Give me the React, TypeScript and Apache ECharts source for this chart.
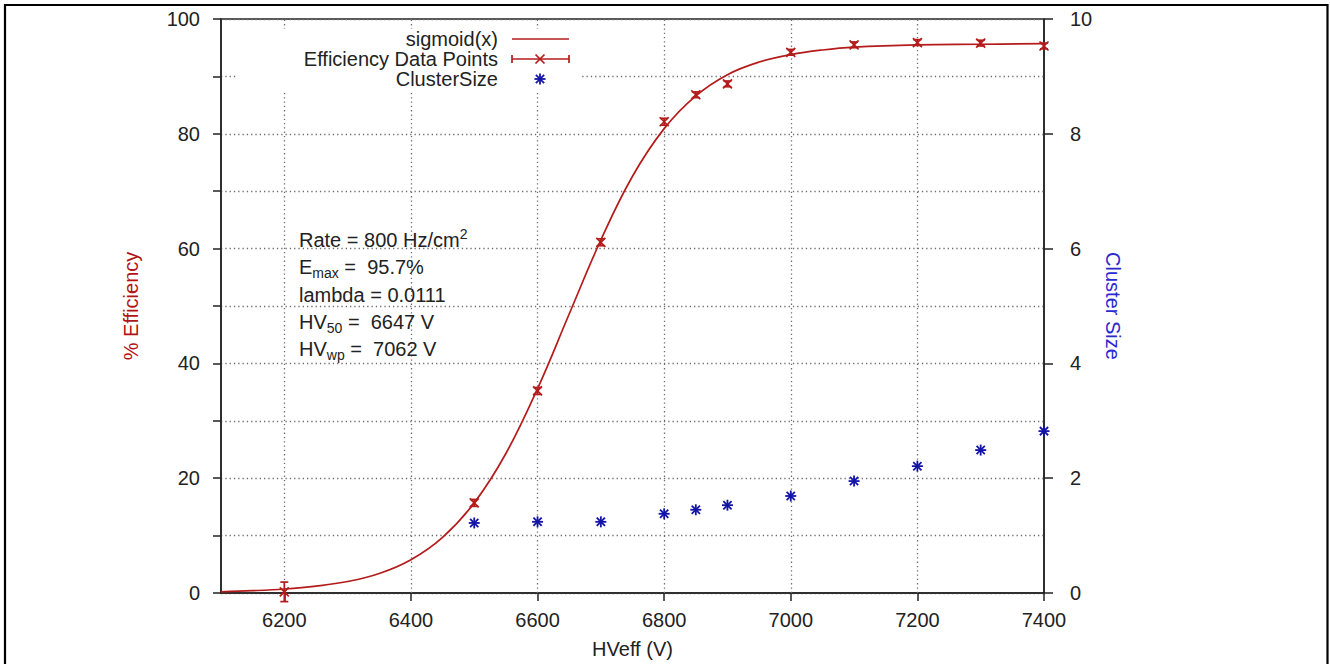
import React, { useEffect, useRef } from "react";
import * as echarts from "echarts";

// ---- data ----
const curveX = [6100, 6150, 6200, 6250, 6300, 6350, 6400, 6450, 6500, 6550, 6600, 6650, 6700, 6750, 6800, 6850, 6900, 6950, 7000, 7050, 7100, 7200, 7300, 7400];
const curveY = [0.2, 0.4, 0.7, 1.2, 2.0, 3.4, 5.8, 9.7, 15.7, 24.3, 35.6, 48.6, 61.5, 72.6, 80.9, 86.6, 90.3, 92.5, 93.8, 94.6, 95.1, 95.5, 95.6, 95.7];

const effX = [6200, 6500, 6600, 6700, 6800, 6850, 6900, 7000, 7100, 7200, 7300, 7400];
const effY = [0.2, 15.7, 35.2, 61.1, 82.1, 86.8, 88.7, 94.2, 95.5, 95.9, 95.8, 95.3];
const effErr = [1.7, 0.6, 0.6, 0.6, 0.6, 0.5, 0.5, 0.5, 0.5, 0.5, 0.5, 0.5];

const clusterX = [6500, 6600, 6700, 6800, 6850, 6900, 7000, 7100, 7200, 7300, 7400];
const clusterY = [1.22, 1.24, 1.24, 1.38, 1.45, 1.53, 1.69, 1.95, 2.21, 2.49, 2.82];

const xTickValues = [6200, 6400, 6600, 6800, 7000, 7200, 7400];
const xGridValues = [6200, 6400, 6600, 6800, 7000, 7200];

const legendLabels = ["sigmoid(x)", "Efficiency Data Points", "ClusterSize"];
const annotationLines = [
  "Rate = 800 Hz/cm{sup|2}",
  "E{sub|max} =  95.7%",
  "lambda = 0.0111",
  "HV{sub|50} =  6647 V",
  "HV{sub|wp} =  7062 V",
];

// ---- styles ----
const FONT = '"Liberation Sans", Arial, Helvetica, sans-serif';
const RED = "#b41c1c";
const BLUE = "#1414a8";
const TEXT = "#222222";
const GRIDC = "#6e6e6e";
const FS = 20;

function drawX(cx: number, cy: number, s: number, color: string) {
  const style = { stroke: color, lineWidth: 1.7 };
  return [
    { type: "line", shape: { x1: cx - s, y1: cy - s, x2: cx + s, y2: cy + s }, style },
    { type: "line", shape: { x1: cx - s, y1: cy + s, x2: cx + s, y2: cy - s }, style },
  ];
}

function drawStar(cx: number, cy: number, s: number, color: string) {
  const style = { stroke: color, lineWidth: 1.8 };
  const d = s * 0.75;
  return [
    { type: "line", shape: { x1: cx - s, y1: cy, x2: cx + s, y2: cy }, style },
    { type: "line", shape: { x1: cx, y1: cy - s, x2: cx, y2: cy + s }, style },
    { type: "line", shape: { x1: cx - d, y1: cy - d, x2: cx + d, y2: cy + d }, style },
    { type: "line", shape: { x1: cx - d, y1: cy + d, x2: cx + d, y2: cy - d }, style },
  ];
}

export default function App() {
  const ref = useRef<HTMLDivElement>(null);

  useEffect(() => {
    if (!ref.current) return;
    const chart = echarts.init(ref.current, null, { renderer: "svg" });

    const gridLine = { color: GRIDC, type: [1.3, 3] as any, width: 1.3 };

    const legendGraphics: any[] = [];
    legendGraphics.push({
      type: "rect",
      z: 10,
      shape: { x: 236, y: 29, width: 346, height: 63 },
      style: { fill: "#ffffff" },
    });
    const rowsY = [39, 59, 79];
    legendLabels.forEach((t, i) => {
      legendGraphics.push({
        type: "text",
        z: 11,
        x: 498,
        y: rowsY[i],
        style: {
          text: t,
          fontSize: FS,
          fontFamily: FONT,
          fill: TEXT,
          align: "right",
          textAlign: "right",
          verticalAlign: "middle",
          textVerticalAlign: "middle",
        },
      });
    });
    const ls = { stroke: RED, lineWidth: 1.7 };
    legendGraphics.push({ type: "line", z: 11, shape: { x1: 512, y1: rowsY[0], x2: 569, y2: rowsY[0] }, style: ls });
    legendGraphics.push({ type: "line", z: 11, shape: { x1: 512, y1: rowsY[1], x2: 569, y2: rowsY[1] }, style: ls });
    legendGraphics.push({ type: "line", z: 11, shape: { x1: 512, y1: rowsY[1] - 4, x2: 512, y2: rowsY[1] + 4 }, style: ls });
    legendGraphics.push({ type: "line", z: 11, shape: { x1: 569, y1: rowsY[1] - 4, x2: 569, y2: rowsY[1] + 4 }, style: ls });
    drawX(540, rowsY[1], 4.5, RED).forEach((g) => legendGraphics.push({ ...g, z: 11 }));
    drawStar(540, rowsY[2], 5.5, BLUE).forEach((g) => legendGraphics.push({ ...g, z: 11 }));

    const annY = [240, 267, 295, 322, 349];
    const annGraphics = annotationLines.map((t, i) => ({
      type: "text",
      z: 11,
      x: 299,
      y: annY[i],
      style: {
        text: t,
        fontSize: FS,
        fontFamily: FONT,
        fill: TEXT,
        lineHeight: 26,
        align: "left",
        textAlign: "left",
        verticalAlign: "middle",
        textVerticalAlign: "middle",
        rich: {
          sub: { fontSize: 14, lineHeight: 14, verticalAlign: "bottom", fontFamily: FONT, fill: TEXT },
          sup: { fontSize: 14, lineHeight: 4, verticalAlign: "top", fontFamily: FONT, fill: TEXT },
        },
      },
    }));

    const option: any = {
      animation: false,
      backgroundColor: "#ffffff",
      textStyle: { fontFamily: FONT },
      grid: {
        left: 221,
        right: 286,
        top: 19,
        bottom: 71,
        show: true,
        borderColor: "#222",
        borderWidth: 1.5,
        backgroundColor: "transparent",
      },
      xAxis: {
        type: "value",
        min: 6100,
        max: 7400,
        interval: 100,
        name: "HVeff (V)",
        nameLocation: "middle",
        nameGap: 46,
        nameTextStyle: { fontSize: FS, color: TEXT, fontFamily: FONT },
        axisLine: { show: true, lineStyle: { color: "#222", width: 1.5 } },
        axisTick: { show: true, inside: false, length: 8, customValues: xTickValues, lineStyle: { color: "#222", width: 1.5 } },
        axisLabel: {
          customValues: xTickValues,
          formatter: (v: number) => (v % 200 === 0 ? String(v) : ""),
          margin: 17,
          fontSize: FS,
          color: TEXT,
          fontFamily: FONT,
        },
        splitLine: { show: false },
      },
      yAxis: [
        {
          type: "value",
          min: 0,
          max: 100,
          interval: 10,
          position: "left",
          name: "% Efficiency",
          nameLocation: "middle",
          nameRotate: 90,
          nameGap: 80,
          nameTextStyle: { fontSize: FS, color: "#b01414", fontFamily: FONT },
          axisLine: { show: true, lineStyle: { color: "#222", width: 1.5 } },
          axisTick: { show: true, inside: false, length: 8, lineStyle: { color: "#222", width: 1.5 } },
          axisLabel: {
            formatter: (v: number) => (v % 20 === 0 ? String(v) : ""),
            margin: 21,
            fontSize: FS,
            color: TEXT,
            fontFamily: FONT,
          },
          splitLine: { show: true, lineStyle: gridLine },
        },
        {
          type: "value",
          min: 0,
          max: 10,
          interval: 2,
          position: "right",
          name: "Cluster Size",
          nameLocation: "middle",
          nameRotate: -90,
          nameGap: 43,
          nameTextStyle: { fontSize: FS, color: "#2a2ad0", fontFamily: FONT },
          axisLine: { show: true, lineStyle: { color: "#222", width: 1.5 } },
          axisTick: { show: true, inside: false, length: 9, lineStyle: { color: "#222", width: 1.5 } },
          axisLabel: { margin: 26, fontSize: FS, color: TEXT, fontFamily: FONT },
          splitLine: { show: false },
        },
      ],
      series: [
        {
          name: "sigmoid(x)",
          type: "line",
          data: curveX.map((x, i) => [x, curveY[i]]),
          smooth: 0.4,
          showSymbol: false,
          symbol: "none",
          lineStyle: { color: RED, width: 1.7 },
          z: 3,
          markLine: {
            silent: true,
            symbol: ["none", "none"],
            label: { show: false },
            lineStyle: gridLine,
            emphasis: { disabled: true },
            data: xGridValues.map((v) => ({ xAxis: v })),
            z: 1,
          },
        },
        {
          name: "Efficiency Data Points",
          type: "custom",
          clip: false,
          z: 4,
          data: effX.map((x, i) => [x, effY[i], effErr[i]]),
          encode: { x: 0, y: 1 },
          renderItem: (_p: any, api: any) => {
            const x = api.value(0);
            const y = api.value(1);
            const e = api.value(2);
            const c = api.coord([x, y]);
            const t = api.coord([x, y + e]);
            const b = api.coord([x, y - e]);
            const style = { stroke: RED, lineWidth: 1.7 };
            const cap = 4;
            return {
              type: "group",
              children: [
                { type: "line", shape: { x1: c[0], y1: t[1], x2: c[0], y2: b[1] }, style },
                { type: "line", shape: { x1: c[0] - cap, y1: t[1], x2: c[0] + cap, y2: t[1] }, style },
                { type: "line", shape: { x1: c[0] - cap, y1: b[1], x2: c[0] + cap, y2: b[1] }, style },
                ...drawX(c[0], c[1], 4.5, RED),
              ],
            };
          },
        },
        {
          name: "ClusterSize",
          type: "custom",
          clip: false,
          yAxisIndex: 1,
          z: 4,
          data: clusterX.map((x, i) => [x, clusterY[i]]),
          encode: { x: 0, y: 1 },
          renderItem: (_p: any, api: any) => {
            const c = api.coord([api.value(0), api.value(1)]);
            return { type: "group", children: drawStar(c[0], c[1], 5.5, BLUE) };
          },
        },
      ],
      graphic: [
        {
          type: "polyline",
          z: 20,
          shape: { points: [[5, 664], [5, 5], [1327.5, 5], [1327.5, 664]] },
          style: { stroke: "#000", lineWidth: 2.2, fill: "none" },
        },
        ...legendGraphics,
        ...annGraphics,
      ],
    };

    chart.setOption(option);
    return () => chart.dispose();
  }, []);

  return (
    <div
      ref={ref}
      style={{ position: "absolute", left: 0, top: 0, width: 1330, height: 664, background: "#fff" }}
    />
  );
}
